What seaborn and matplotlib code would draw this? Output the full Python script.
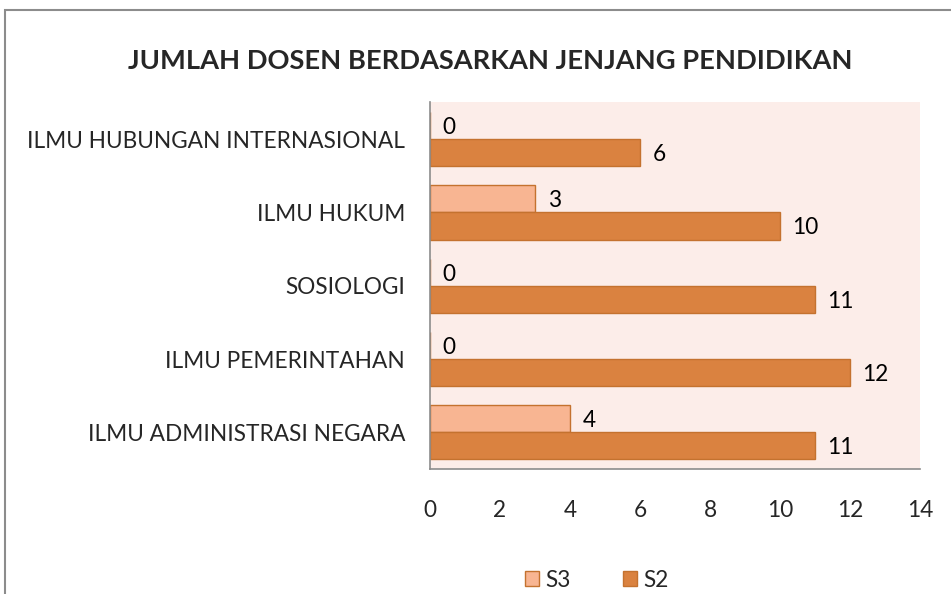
import pandas as pd
import matplotlib.pyplot as plt
import seaborn as sns
from matplotlib.patches import Rectangle

# data
categories = ['ILMU HUBUNGAN INTERNASIONAL', 'ILMU HUKUM', 'SOSIOLOGI',
              'ILMU PEMERINTAHAN', 'ILMU ADMINISTRASI NEGARA']
series = ['S3', 'S2']
s3_values = [0, 3, 0, 0, 4]
s2_values = [6, 10, 11, 12, 11]
x_ticks = [0, 2, 4, 6, 8, 10, 12, 14]

df = pd.DataFrame({
    'Program': categories * 2,
    'Jenjang': ['S3'] * len(categories) + ['S2'] * len(categories),
    'Jumlah': s3_values + s2_values,
})

sns.set_theme(style='white')
plt.rcParams['font.family'] = ['Lato', 'DejaVu Sans']
fs = 16.3

fig = plt.figure(figsize=(9.51, 5.94), dpi=100)
ax = fig.add_axes([0.4522, 0.2105, 0.5152, 0.617])

palette = {'S3': '#F8B592', 'S2': '#DA8240'}
sns.barplot(data=df, y='Program', x='Jumlah', hue='Jenjang', order=categories,
            hue_order=series, palette=palette, width=0.74, orient='h',
            saturation=1, edgecolor='#C4722F', linewidth=1.0, ax=ax)

for cont in ax.containers:
    labels = ax.bar_label(cont, padding=9, fontsize=fs, color='black')
    for t in labels:
        t.set_verticalalignment('center_baseline')

ax.set_facecolor('#FCEDE9')
ax.set_xlim(0, 14)
ax.set_xticks(x_ticks)
ax.set_xticklabels([str(t) for t in x_ticks], fontsize=fs)
ax.tick_params(axis='y', labelsize=fs, pad=18, length=0)
ax.tick_params(axis='x', pad=22, length=0)
ax.set_xlabel('')
ax.set_ylabel('')
for side in ['top', 'right']:
    ax.spines[side].set_visible(False)
for side in ['left', 'bottom']:
    ax.spines[side].set_color('#8C8C8C')
    ax.spines[side].set_linewidth(1.2)

leg = ax.legend(loc='center', bbox_to_anchor=(0.341, -0.303), ncol=2, frameon=False,
                fontsize=fs, handlelength=0.6, handleheight=0.6,
                columnspacing=2.3, handletextpad=0.3)

fig.suptitle('JUMLAH DOSEN BERDASARKAN JENJANG PENDIDIKAN', x=0.515, y=0.918,
             fontsize=19.6, fontweight='bold')

# outer chart frame
fig.patches.append(Rectangle((0.0055, -0.05), 1.2, 1.033, transform=fig.transFigure,
                             fill=False, edgecolor='#8C8C8C', linewidth=1.5))

fig.savefig('out.png', dpi=100)
